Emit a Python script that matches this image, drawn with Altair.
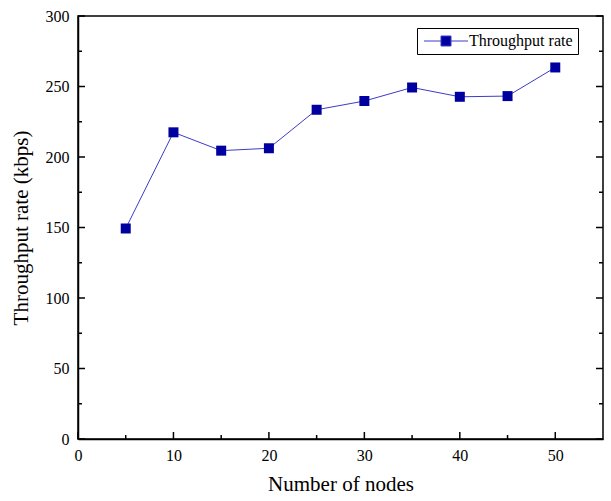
import altair as alt
import pandas as pd

# Throughput measured for each network size
nodes = [5, 10, 15, 20, 25, 30, 35, 40, 45, 50]
throughput = [149.3, 217.5, 204.5, 206.2, 233.5, 239.7, 249.3, 242.7, 243.2, 263.5]
series_name = "Throughput rate"

x_major = [0, 10, 20, 30, 40, 50]
x_minor = [5, 15, 25, 35, 45]
y_major = [0, 50, 100, 150, 200, 250, 300]
y_minor = [25, 75, 125, 175, 225, 275]

df = pd.DataFrame({"nodes": nodes, "rate": throughput, "series": [series_name] * len(nodes)})

FONT = "Liberation Serif"
LINE = "#3c3cc8"
MARK = "#0000a0"
W, H = 525, 423
MAJOR, MINOR = 7, 4

x_scale = alt.Scale(domain=[0, 55], nice=False, zero=False)
y_scale = alt.Scale(domain=[0, 300], nice=False, zero=False)

line = alt.Chart(df).mark_line(color=LINE, strokeWidth=1).encode(
    x=alt.X("nodes:Q", scale=x_scale,
            axis=alt.Axis(orient="bottom", values=x_major, ticks=False, grid=False,
                          title="Number of nodes", labelPadding=8, titlePadding=10,
                          labelFlush=False, labelFont=FONT, labelFontSize=16,
                          domainColor="black", domainWidth=1.5)),
    y=alt.Y("rate:Q", scale=y_scale,
            axis=alt.Axis(orient="left", values=y_major, ticks=False, grid=False,
                          title="Throughput rate (kbps)", labelPadding=9, titlePadding=14,
                          labelFlush=False, labelFont=FONT, labelFontSize=16,
                          domainColor="black", domainWidth=1.5)),
)

points = alt.Chart(df).mark_point(shape="square", filled=True, size=100, opacity=1).encode(
    x=alt.X("nodes:Q", scale=x_scale),
    y=alt.Y("rate:Q", scale=y_scale),
    color=alt.Color("series:N", scale=alt.Scale(range=[MARK]),
                    legend=alt.Legend(
                        title=None, orient="none", legendX=339, legendY=12,
                        symbolType="M-4.4,0H-1M1,0H4.4M-1,-1H1V1H-1Z",
                        symbolSize=100, symbolFillColor=MARK, symbolStrokeColor=LINE,
                        symbolStrokeWidth=1, symbolOffset=16, labelOffset=15,
                        labelFont=FONT, labelFontSize=16, labelColor="black",
                        strokeColor="black", fillColor="white", padding=5)),
)


# inward-pointing tick marks along the bottom, left and right frame edges
def x_ticks(values, length):
    return alt.Chart(pd.DataFrame({"v": values})).mark_rule(
        color="black", strokeWidth=1.5).encode(
        x=alt.X("v:Q", scale=x_scale), y=alt.value(H), y2=alt.value(H - length))


def y_ticks(values, length, right=False):
    x0 = W if right else 0
    x1 = W - length if right else length
    return alt.Chart(pd.DataFrame({"v": values})).mark_rule(
        color="black", strokeWidth=1.5).encode(
        y=alt.Y("v:Q", scale=y_scale), x=alt.value(x0), x2=alt.value(x1))


ticks = [
    x_ticks(x_major, MAJOR), x_ticks(x_minor, MINOR),
    y_ticks(y_major, MAJOR), y_ticks(y_minor, MINOR),
    y_ticks(y_major, MAJOR, right=True), y_ticks(y_minor, MINOR, right=True),
]

chart = (
    alt.layer(line, *ticks, points)
    .properties(
        width=W, height=H,
        autosize=alt.AutoSizeParams(type="none"),
        padding={"left": 78, "top": 16, "right": 8, "bottom": 62},
        background="white",
    )
    .configure(font=FONT)
    .configure_view(stroke="black", strokeWidth=1.5)
    .configure_axis(labelFont=FONT, labelFontSize=16, labelColor="black",
                    titleFont=FONT, titleFontSize=21, titleFontWeight="normal",
                    titleColor="black")
)

chart.save("out.html", embed_options={"renderer": "svg", "actions": False})
